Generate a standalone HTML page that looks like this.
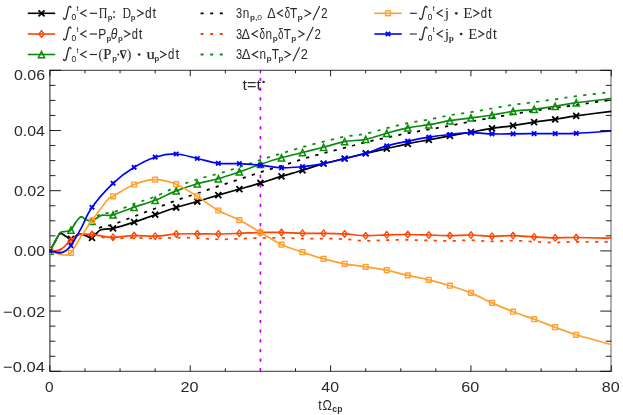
<!DOCTYPE html>
<html><head><meta charset="utf-8"><title>plot</title>
<style>
html,body{margin:0;padding:0;background:#fff}
body{width:623px;height:415px;position:relative;overflow:hidden;font-family:"Liberation Sans",sans-serif}
</style></head><body>
<svg width="623" height="415" viewBox="0 0 623 415" style="position:absolute;left:0;top:0;will-change:transform">
<rect width="623" height="415" fill="#fff"/>
<defs><clipPath id="cp"><rect x="49.4" y="69.8" width="562.5" height="302"/></clipPath></defs>
<path d="M49.90 69.80 V371.80" stroke="#000" stroke-opacity="0.78" stroke-width="1.15" fill="none"/>
<path d="M49.90 70.30 H611.50 M49.90 371.30 H611.50" stroke="#000" stroke-opacity="0.8" stroke-width="1.0" fill="none"/>
<path d="M611.00 70.30 V371.30" stroke="#000" stroke-opacity="0.55" stroke-width="1.15" fill="none"/>
<path d="M49.90 70.30 h11.0 M611.30 70.30 h-11.0 M49.90 85.35 h5.5 M611.30 85.35 h-5.5 M49.90 100.40 h5.5 M611.30 100.40 h-5.5 M49.90 115.45 h5.5 M611.30 115.45 h-5.5 M49.90 130.50 h11.0 M611.30 130.50 h-11.0 M49.90 145.55 h5.5 M611.30 145.55 h-5.5 M49.90 160.60 h5.5 M611.30 160.60 h-5.5 M49.90 175.65 h5.5 M611.30 175.65 h-5.5 M49.90 190.70 h11.0 M611.30 190.70 h-11.0 M49.90 205.75 h5.5 M611.30 205.75 h-5.5 M49.90 220.80 h5.5 M611.30 220.80 h-5.5 M49.90 235.85 h5.5 M611.30 235.85 h-5.5 M49.90 250.90 h11.0 M611.30 250.90 h-11.0 M49.90 265.95 h5.5 M611.30 265.95 h-5.5 M49.90 281.00 h5.5 M611.30 281.00 h-5.5 M49.90 296.05 h5.5 M611.30 296.05 h-5.5 M49.90 311.10 h11.0 M611.30 311.10 h-11.0 M49.90 326.15 h5.5 M611.30 326.15 h-5.5 M49.90 341.20 h5.5 M611.30 341.20 h-5.5 M49.90 356.25 h5.5 M611.30 356.25 h-5.5 M49.90 371.30 h11.0 M611.30 371.30 h-11.0 M49.90 371.30 v-6.0 M49.90 70.30 v6.0 M84.99 371.30 v-3.0 M84.99 70.30 v3.0 M120.07 371.30 v-3.0 M120.07 70.30 v3.0 M155.16 371.30 v-3.0 M155.16 70.30 v3.0 M190.25 371.30 v-6.0 M190.25 70.30 v6.0 M225.34 371.30 v-3.0 M225.34 70.30 v3.0 M260.43 371.30 v-3.0 M260.43 70.30 v3.0 M295.51 371.30 v-3.0 M295.51 70.30 v3.0 M330.60 371.30 v-6.0 M330.60 70.30 v6.0 M365.69 371.30 v-3.0 M365.69 70.30 v3.0 M400.77 371.30 v-3.0 M400.77 70.30 v3.0 M435.86 371.30 v-3.0 M435.86 70.30 v3.0 M470.95 371.30 v-6.0 M470.95 70.30 v6.0 M506.04 371.30 v-3.0 M506.04 70.30 v3.0 M541.12 371.30 v-3.0 M541.12 70.30 v3.0 M576.21 371.30 v-3.0 M576.21 70.30 v3.0 M611.30 371.30 v-6.0 M611.30 70.30 v6.0" stroke="#000" stroke-opacity="0.88" stroke-width="1.0" fill="none"/>
<line x1="260.43" y1="69.80" x2="260.43" y2="371.80" stroke="#c400f0" stroke-width="1.7" stroke-dasharray="3.2 6.48" stroke-dashoffset="1.58"/>
<g clip-path="url(#cp)" fill="none" stroke-linejoin="round" stroke-linecap="butt">
<path d="M49.90 251.00 C50.72 249.50 53.12 244.92 54.81 242.00 C56.51 239.08 58.32 234.50 60.08 233.50 C61.83 232.50 63.53 235.08 65.34 236.00 C67.15 236.92 69.20 239.00 70.95 239.00 C72.71 239.00 74.23 236.83 75.86 236.00 C77.50 235.17 79.02 234.12 80.78 234.00 C82.53 233.88 84.52 234.85 86.39 235.25 C88.26 235.65 90.25 237.12 92.00 236.40 C93.76 235.68 95.40 232.48 96.92 230.94 C98.44 229.40 98.44 228.25 101.13 227.16 C103.82 226.07 107.56 226.19 113.06 224.40 C118.55 222.61 127.09 219.05 134.11 216.40 C141.13 213.75 148.14 211.17 155.16 208.50 C162.18 205.83 169.20 202.92 176.22 200.40 C183.23 197.88 190.25 195.77 197.27 193.40 C204.29 191.03 211.30 188.55 218.32 186.20 C225.34 183.85 232.36 181.63 239.37 179.30 C246.39 176.97 253.41 174.43 260.43 172.20 C267.44 169.97 274.46 168.08 281.48 165.90 C288.50 163.72 295.51 161.22 302.53 159.10 C309.55 156.98 316.56 155.08 323.58 153.20 C330.60 151.32 337.62 149.62 344.63 147.80 C351.65 145.98 358.67 144.00 365.69 142.30 C372.70 140.60 379.72 139.12 386.74 137.60 C393.76 136.07 400.77 134.50 407.79 133.15 C414.81 131.80 421.83 130.74 428.84 129.50 C435.86 128.26 442.88 127.03 449.90 125.70 C456.91 124.37 463.93 122.85 470.95 121.50 C477.97 120.15 484.99 118.83 492.00 117.60 C499.02 116.37 506.04 115.23 513.06 114.10 C520.07 112.97 527.09 111.82 534.11 110.80 C541.12 109.78 548.14 108.97 555.16 108.00 C562.18 107.03 566.86 106.37 576.21 105.00 C585.57 103.63 605.45 100.67 611.30 99.80" stroke="#000000" stroke-width="1.75" stroke-dasharray="3.2 6.3"/>
<path d="M49.90 251.00 C50.72 250.98 53.17 251.05 54.81 250.88 C56.45 250.70 58.20 250.56 59.72 249.95 C61.24 249.34 62.77 248.13 63.94 247.22 C65.10 246.30 65.57 245.53 66.74 244.46 C67.91 243.40 69.20 242.25 70.95 240.83 C72.71 239.40 75.40 236.93 77.27 235.92 C79.14 234.92 79.72 234.85 82.18 234.80 C84.64 234.75 88.61 235.17 92.00 235.60 C95.40 236.03 99.02 236.92 102.53 237.40 C106.04 237.88 107.79 238.43 113.06 238.50 C118.32 238.57 127.09 237.80 134.11 237.80 C141.13 237.80 148.14 238.53 155.16 238.50 C162.18 238.47 169.20 237.66 176.22 237.60 C183.23 237.54 190.25 237.84 197.27 238.12 C204.29 238.41 211.30 239.20 218.32 239.30 C225.34 239.40 232.36 238.93 239.37 238.70 C246.39 238.47 253.41 238.04 260.43 237.90 C267.44 237.76 274.46 237.71 281.48 237.84 C288.50 237.97 295.51 238.55 302.53 238.68 C309.55 238.81 316.56 238.54 323.58 238.62 C330.60 238.70 337.62 238.78 344.63 239.16 C351.65 239.54 358.67 240.74 365.69 240.90 C372.70 241.06 379.72 240.27 386.74 240.10 C393.76 239.93 400.77 239.83 407.79 239.90 C414.81 239.97 421.83 240.32 428.84 240.50 C435.86 240.68 442.88 241.01 449.90 240.97 C456.91 240.92 463.93 240.16 470.95 240.23 C477.97 240.31 484.99 241.34 492.00 241.40 C499.02 241.46 506.04 240.51 513.06 240.57 C520.07 240.62 527.09 241.41 534.11 241.73 C541.12 242.06 548.14 242.48 555.16 242.50 C562.18 242.52 566.86 241.92 576.21 241.82 C585.57 241.72 605.45 241.89 611.30 241.90" stroke="#ff4500" stroke-width="1.75" stroke-dasharray="3.2 6.3"/>
<path d="M49.90 251.00 C50.72 249.50 53.12 245.00 54.81 242.00 C56.51 239.00 58.32 234.75 60.08 233.00 C61.83 231.25 63.53 232.00 65.34 231.50 C67.15 231.00 69.20 231.58 70.95 230.00 C72.71 228.42 74.23 224.17 75.86 222.00 C77.50 219.83 79.26 217.58 80.78 217.00 C82.30 216.42 83.58 218.01 84.99 218.51 C86.39 219.02 88.03 219.78 89.20 220.03 C90.37 220.27 90.60 220.69 92.00 220.00 C93.41 219.31 95.86 217.00 97.62 215.88 C99.37 214.76 99.96 213.88 102.53 213.30 C105.10 212.72 107.79 214.00 113.06 212.40 C118.32 210.80 127.09 206.33 134.11 203.70 C141.13 201.07 148.14 199.40 155.16 196.60 C162.18 193.80 169.20 189.78 176.22 186.90 C183.23 184.02 190.25 181.50 197.27 179.30 C204.29 177.10 211.30 175.72 218.32 173.70 C225.34 171.68 232.36 169.50 239.37 167.20 C246.39 164.90 253.41 162.20 260.43 159.90 C267.44 157.60 274.46 155.53 281.48 153.40 C288.50 151.27 295.51 149.07 302.53 147.10 C309.55 145.13 316.56 143.33 323.58 141.60 C330.60 139.87 337.62 138.02 344.63 136.70 C351.65 135.38 358.67 135.12 365.69 133.70 C372.70 132.28 379.72 129.98 386.74 128.20 C393.76 126.42 400.77 124.45 407.79 123.00 C414.81 121.55 421.83 120.78 428.84 119.50 C435.86 118.22 442.88 116.53 449.90 115.30 C456.91 114.07 463.93 113.23 470.95 112.10 C477.97 110.97 484.99 109.72 492.00 108.50 C499.02 107.28 506.04 105.85 513.06 104.80 C520.07 103.75 527.09 103.12 534.11 102.20 C541.12 101.28 548.14 100.30 555.16 99.30 C562.18 98.30 566.86 97.42 576.21 96.20 C585.57 94.98 605.45 92.70 611.30 92.00" stroke="#0c8c0c" stroke-width="1.75" stroke-dasharray="3.2 6.3"/>
<path d="M49.90 251.00 C50.72 249.50 53.12 244.92 54.81 242.00 C56.51 239.08 58.32 234.50 60.08 233.50 C61.83 232.50 63.53 235.08 65.34 236.00 C67.15 236.92 69.20 239.00 70.95 239.00 C72.71 239.00 74.23 236.83 75.86 236.00 C77.50 235.17 79.02 234.00 80.78 234.00 C82.53 234.00 84.52 235.35 86.39 236.00 C88.26 236.65 90.25 238.40 92.00 237.90 C93.76 237.40 95.40 234.37 96.92 233.00 C98.44 231.63 98.44 230.48 101.13 229.70 C103.82 228.92 107.56 229.57 113.06 228.30 C118.55 227.03 127.09 224.37 134.11 222.10 C141.13 219.83 148.14 217.13 155.16 214.70 C162.18 212.27 169.20 209.70 176.22 207.50 C183.23 205.30 190.25 203.57 197.27 201.50 C204.29 199.43 211.30 197.17 218.32 195.10 C225.34 193.03 232.36 191.12 239.37 189.10 C246.39 187.08 253.41 185.12 260.43 183.00 C267.44 180.88 274.46 178.52 281.48 176.40 C288.50 174.28 295.51 172.43 302.53 170.30 C309.55 168.17 316.56 165.55 323.58 163.60 C330.60 161.65 337.62 160.32 344.63 158.60 C351.65 156.88 358.67 154.97 365.69 153.30 C372.70 151.63 379.72 150.18 386.74 148.60 C393.76 147.02 400.77 145.27 407.79 143.80 C414.81 142.33 421.83 141.12 428.84 139.80 C435.86 138.48 442.88 137.18 449.90 135.90 C456.91 134.62 463.93 133.35 470.95 132.10 C477.97 130.85 484.99 129.48 492.00 128.40 C499.02 127.32 506.04 126.65 513.06 125.60 C520.07 124.55 527.09 123.15 534.11 122.10 C541.12 121.05 548.14 120.33 555.16 119.30 C562.18 118.27 566.86 117.23 576.21 115.90 C585.57 114.57 605.45 112.07 611.30 111.30" stroke="#000000" stroke-width="1.7"/>
<path d="M46.90 248.00 L52.90 254.00 M46.90 254.00 L52.90 248.00" stroke="#000000" stroke-width="1.8" fill="none"/>
<path d="M67.95 236.00 L73.95 242.00 M67.95 242.00 L73.95 236.00" stroke="#000000" stroke-width="1.8" fill="none"/>
<path d="M89.00 234.90 L95.00 240.90 M89.00 240.90 L95.00 234.90" stroke="#000000" stroke-width="1.8" fill="none"/>
<path d="M110.06 225.30 L116.06 231.30 M110.06 231.30 L116.06 225.30" stroke="#000000" stroke-width="1.8" fill="none"/>
<path d="M131.11 219.10 L137.11 225.10 M131.11 225.10 L137.11 219.10" stroke="#000000" stroke-width="1.8" fill="none"/>
<path d="M152.16 211.70 L158.16 217.70 M152.16 217.70 L158.16 211.70" stroke="#000000" stroke-width="1.8" fill="none"/>
<path d="M173.22 204.50 L179.22 210.50 M173.22 210.50 L179.22 204.50" stroke="#000000" stroke-width="1.8" fill="none"/>
<path d="M194.27 198.50 L200.27 204.50 M194.27 204.50 L200.27 198.50" stroke="#000000" stroke-width="1.8" fill="none"/>
<path d="M215.32 192.10 L221.32 198.10 M215.32 198.10 L221.32 192.10" stroke="#000000" stroke-width="1.8" fill="none"/>
<path d="M236.37 186.10 L242.37 192.10 M236.37 192.10 L242.37 186.10" stroke="#000000" stroke-width="1.8" fill="none"/>
<path d="M257.43 180.00 L263.43 186.00 M257.43 186.00 L263.43 180.00" stroke="#000000" stroke-width="1.8" fill="none"/>
<path d="M278.48 173.40 L284.48 179.40 M278.48 179.40 L284.48 173.40" stroke="#000000" stroke-width="1.8" fill="none"/>
<path d="M299.53 167.30 L305.53 173.30 M299.53 173.30 L305.53 167.30" stroke="#000000" stroke-width="1.8" fill="none"/>
<path d="M320.58 160.60 L326.58 166.60 M320.58 166.60 L326.58 160.60" stroke="#000000" stroke-width="1.8" fill="none"/>
<path d="M341.63 155.60 L347.63 161.60 M341.63 161.60 L347.63 155.60" stroke="#000000" stroke-width="1.8" fill="none"/>
<path d="M362.69 150.30 L368.69 156.30 M362.69 156.30 L368.69 150.30" stroke="#000000" stroke-width="1.8" fill="none"/>
<path d="M383.74 145.60 L389.74 151.60 M383.74 151.60 L389.74 145.60" stroke="#000000" stroke-width="1.8" fill="none"/>
<path d="M404.79 140.80 L410.79 146.80 M404.79 146.80 L410.79 140.80" stroke="#000000" stroke-width="1.8" fill="none"/>
<path d="M425.84 136.80 L431.84 142.80 M425.84 142.80 L431.84 136.80" stroke="#000000" stroke-width="1.8" fill="none"/>
<path d="M446.90 132.90 L452.90 138.90 M446.90 138.90 L452.90 132.90" stroke="#000000" stroke-width="1.8" fill="none"/>
<path d="M467.95 129.10 L473.95 135.10 M467.95 135.10 L473.95 129.10" stroke="#000000" stroke-width="1.8" fill="none"/>
<path d="M489.00 125.40 L495.00 131.40 M489.00 131.40 L495.00 125.40" stroke="#000000" stroke-width="1.8" fill="none"/>
<path d="M510.06 122.60 L516.06 128.60 M510.06 128.60 L516.06 122.60" stroke="#000000" stroke-width="1.8" fill="none"/>
<path d="M531.11 119.10 L537.11 125.10 M531.11 125.10 L537.11 119.10" stroke="#000000" stroke-width="1.8" fill="none"/>
<path d="M552.16 116.30 L558.16 122.30 M552.16 122.30 L558.16 116.30" stroke="#000000" stroke-width="1.8" fill="none"/>
<path d="M573.21 112.90 L579.21 118.90 M573.21 118.90 L579.21 112.90" stroke="#000000" stroke-width="1.8" fill="none"/>
<path d="M49.90 251.00 C50.72 250.97 53.17 251.00 54.81 250.80 C56.45 250.60 58.20 250.43 59.72 249.80 C61.24 249.17 62.77 247.93 63.94 247.00 C65.10 246.07 65.57 245.28 66.74 244.20 C67.91 243.12 69.20 241.95 70.95 240.50 C72.71 239.05 75.40 236.53 77.27 235.50 C79.14 234.47 79.72 234.48 82.18 234.30 C84.64 234.12 88.61 234.08 92.00 234.40 C95.40 234.72 99.02 235.72 102.53 236.20 C106.04 236.68 107.79 237.40 113.06 237.30 C118.32 237.20 127.09 235.78 134.11 235.60 C141.13 235.42 148.14 236.47 155.16 236.20 C162.18 235.93 169.20 234.40 176.22 234.00 C183.23 233.60 190.25 233.80 197.27 233.80 C204.29 233.80 211.30 234.08 218.32 234.00 C225.34 233.92 232.36 233.57 239.37 233.30 C246.39 233.03 253.41 232.55 260.43 232.40 C267.44 232.25 274.46 232.25 281.48 232.40 C288.50 232.55 295.51 233.15 302.53 233.30 C309.55 233.45 316.56 233.20 323.58 233.30 C330.60 233.40 337.62 233.50 344.63 233.90 C351.65 234.30 358.67 235.55 365.69 235.70 C372.70 235.85 379.72 235.00 386.74 234.80 C393.76 234.60 400.77 234.47 407.79 234.50 C414.81 234.53 421.83 234.82 428.84 235.00 C435.86 235.18 442.88 235.60 449.90 235.60 C456.91 235.60 463.93 234.88 470.95 235.00 C477.97 235.12 484.99 236.20 492.00 236.30 C499.02 236.40 506.04 235.50 513.06 235.60 C520.07 235.70 527.09 236.53 534.11 236.90 C541.12 237.27 548.14 237.70 555.16 237.80 C562.18 237.90 566.86 237.43 576.21 237.50 C585.57 237.57 605.45 238.08 611.30 238.20" stroke="#ff4500" stroke-width="1.7"/>
<path d="M49.90 247.65 L52.45 251.00 L49.90 254.35 L47.35 251.00 Z" stroke="#ff4500" stroke-width="1.3" fill="none"/>
<path d="M70.95 237.15 L73.50 240.50 L70.95 243.85 L68.41 240.50 Z" stroke="#ff4500" stroke-width="1.3" fill="none"/>
<path d="M92.00 231.05 L94.55 234.40 L92.00 237.75 L89.46 234.40 Z" stroke="#ff4500" stroke-width="1.3" fill="none"/>
<path d="M113.06 233.95 L115.60 237.30 L113.06 240.65 L110.51 237.30 Z" stroke="#ff4500" stroke-width="1.3" fill="none"/>
<path d="M134.11 232.25 L136.66 235.60 L134.11 238.95 L131.56 235.60 Z" stroke="#ff4500" stroke-width="1.3" fill="none"/>
<path d="M155.16 232.85 L157.71 236.20 L155.16 239.55 L152.62 236.20 Z" stroke="#ff4500" stroke-width="1.3" fill="none"/>
<path d="M176.22 230.65 L178.76 234.00 L176.22 237.35 L173.67 234.00 Z" stroke="#ff4500" stroke-width="1.3" fill="none"/>
<path d="M197.27 230.45 L199.81 233.80 L197.27 237.15 L194.72 233.80 Z" stroke="#ff4500" stroke-width="1.3" fill="none"/>
<path d="M218.32 230.65 L220.87 234.00 L218.32 237.35 L215.77 234.00 Z" stroke="#ff4500" stroke-width="1.3" fill="none"/>
<path d="M239.37 229.95 L241.92 233.30 L239.37 236.65 L236.83 233.30 Z" stroke="#ff4500" stroke-width="1.3" fill="none"/>
<path d="M260.43 229.05 L262.97 232.40 L260.43 235.75 L257.88 232.40 Z" stroke="#ff4500" stroke-width="1.3" fill="none"/>
<path d="M281.48 229.05 L284.02 232.40 L281.48 235.75 L278.93 232.40 Z" stroke="#ff4500" stroke-width="1.3" fill="none"/>
<path d="M302.53 229.95 L305.08 233.30 L302.53 236.65 L299.98 233.30 Z" stroke="#ff4500" stroke-width="1.3" fill="none"/>
<path d="M323.58 229.95 L326.13 233.30 L323.58 236.65 L321.04 233.30 Z" stroke="#ff4500" stroke-width="1.3" fill="none"/>
<path d="M344.63 230.55 L347.18 233.90 L344.63 237.25 L342.09 233.90 Z" stroke="#ff4500" stroke-width="1.3" fill="none"/>
<path d="M365.69 232.35 L368.23 235.70 L365.69 239.05 L363.14 235.70 Z" stroke="#ff4500" stroke-width="1.3" fill="none"/>
<path d="M386.74 231.45 L389.29 234.80 L386.74 238.15 L384.19 234.80 Z" stroke="#ff4500" stroke-width="1.3" fill="none"/>
<path d="M407.79 231.15 L410.34 234.50 L407.79 237.85 L405.25 234.50 Z" stroke="#ff4500" stroke-width="1.3" fill="none"/>
<path d="M428.84 231.65 L431.39 235.00 L428.84 238.35 L426.30 235.00 Z" stroke="#ff4500" stroke-width="1.3" fill="none"/>
<path d="M449.90 232.25 L452.44 235.60 L449.90 238.95 L447.35 235.60 Z" stroke="#ff4500" stroke-width="1.3" fill="none"/>
<path d="M470.95 231.65 L473.50 235.00 L470.95 238.35 L468.40 235.00 Z" stroke="#ff4500" stroke-width="1.3" fill="none"/>
<path d="M492.00 232.95 L494.55 236.30 L492.00 239.65 L489.46 236.30 Z" stroke="#ff4500" stroke-width="1.3" fill="none"/>
<path d="M513.06 232.25 L515.60 235.60 L513.06 238.95 L510.51 235.60 Z" stroke="#ff4500" stroke-width="1.3" fill="none"/>
<path d="M534.11 233.55 L536.65 236.90 L534.11 240.25 L531.56 236.90 Z" stroke="#ff4500" stroke-width="1.3" fill="none"/>
<path d="M555.16 234.45 L557.71 237.80 L555.16 241.15 L552.61 237.80 Z" stroke="#ff4500" stroke-width="1.3" fill="none"/>
<path d="M576.21 234.15 L578.76 237.50 L576.21 240.85 L573.67 237.50 Z" stroke="#ff4500" stroke-width="1.3" fill="none"/>
<path d="M49.90 251.00 C50.72 249.50 53.12 245.00 54.81 242.00 C56.51 239.00 58.32 234.75 60.08 233.00 C61.83 231.25 63.53 232.00 65.34 231.50 C67.15 231.00 69.20 231.58 70.95 230.00 C72.71 228.42 74.23 224.17 75.86 222.00 C77.50 219.83 79.26 217.50 80.78 217.00 C82.30 216.50 83.58 218.33 84.99 219.00 C86.39 219.67 88.03 220.62 89.20 221.00 C90.37 221.38 90.60 221.88 92.00 221.30 C93.41 220.72 95.86 218.52 97.62 217.50 C99.37 216.48 99.96 215.63 102.53 215.20 C105.10 214.77 107.79 216.23 113.06 214.90 C118.32 213.57 127.09 209.63 134.11 207.20 C141.13 204.77 148.14 203.02 155.16 200.30 C162.18 197.58 169.20 193.67 176.22 190.90 C183.23 188.13 190.25 185.73 197.27 183.70 C204.29 181.67 211.30 180.67 218.32 178.70 C225.34 176.73 232.36 174.28 239.37 171.90 C246.39 169.52 253.41 166.75 260.43 164.40 C267.44 162.05 274.46 159.78 281.48 157.80 C288.50 155.82 295.51 154.27 302.53 152.50 C309.55 150.73 316.56 149.02 323.58 147.20 C330.60 145.38 337.62 142.92 344.63 141.60 C351.65 140.28 358.67 140.70 365.69 139.30 C372.70 137.90 379.72 135.10 386.74 133.20 C393.76 131.30 400.77 129.32 407.79 127.90 C414.81 126.48 421.83 125.90 428.84 124.70 C435.86 123.50 442.88 121.83 449.90 120.70 C456.91 119.57 463.93 118.85 470.95 117.90 C477.97 116.95 484.99 116.10 492.00 115.00 C499.02 113.90 506.04 112.25 513.06 111.30 C520.07 110.35 527.09 110.12 534.11 109.30 C541.12 108.48 548.14 107.50 555.16 106.40 C562.18 105.30 566.86 103.98 576.21 102.70 C585.57 101.42 605.45 99.37 611.30 98.70" stroke="#0c8c0c" stroke-width="1.7"/>
<path d="M49.90 247.90 L53.00 254.20 L46.80 254.20 Z" stroke="#0c8c0c" stroke-width="1.5" fill="none" stroke-linejoin="miter"/>
<path d="M70.95 226.90 L74.05 233.20 L67.85 233.20 Z" stroke="#0c8c0c" stroke-width="1.5" fill="none" stroke-linejoin="miter"/>
<path d="M92.00 218.20 L95.10 224.50 L88.91 224.50 Z" stroke="#0c8c0c" stroke-width="1.5" fill="none" stroke-linejoin="miter"/>
<path d="M113.06 211.80 L116.16 218.10 L109.96 218.10 Z" stroke="#0c8c0c" stroke-width="1.5" fill="none" stroke-linejoin="miter"/>
<path d="M134.11 204.10 L137.21 210.40 L131.01 210.40 Z" stroke="#0c8c0c" stroke-width="1.5" fill="none" stroke-linejoin="miter"/>
<path d="M155.16 197.20 L158.26 203.50 L152.06 203.50 Z" stroke="#0c8c0c" stroke-width="1.5" fill="none" stroke-linejoin="miter"/>
<path d="M176.22 187.80 L179.31 194.10 L173.12 194.10 Z" stroke="#0c8c0c" stroke-width="1.5" fill="none" stroke-linejoin="miter"/>
<path d="M197.27 180.60 L200.37 186.90 L194.17 186.90 Z" stroke="#0c8c0c" stroke-width="1.5" fill="none" stroke-linejoin="miter"/>
<path d="M218.32 175.60 L221.42 181.90 L215.22 181.90 Z" stroke="#0c8c0c" stroke-width="1.5" fill="none" stroke-linejoin="miter"/>
<path d="M239.37 168.80 L242.47 175.10 L236.27 175.10 Z" stroke="#0c8c0c" stroke-width="1.5" fill="none" stroke-linejoin="miter"/>
<path d="M260.43 161.30 L263.53 167.60 L257.32 167.60 Z" stroke="#0c8c0c" stroke-width="1.5" fill="none" stroke-linejoin="miter"/>
<path d="M281.48 154.70 L284.58 161.00 L278.38 161.00 Z" stroke="#0c8c0c" stroke-width="1.5" fill="none" stroke-linejoin="miter"/>
<path d="M302.53 149.40 L305.63 155.70 L299.43 155.70 Z" stroke="#0c8c0c" stroke-width="1.5" fill="none" stroke-linejoin="miter"/>
<path d="M323.58 144.10 L326.68 150.40 L320.48 150.40 Z" stroke="#0c8c0c" stroke-width="1.5" fill="none" stroke-linejoin="miter"/>
<path d="M344.63 138.50 L347.74 144.80 L341.53 144.80 Z" stroke="#0c8c0c" stroke-width="1.5" fill="none" stroke-linejoin="miter"/>
<path d="M365.69 136.20 L368.79 142.50 L362.59 142.50 Z" stroke="#0c8c0c" stroke-width="1.5" fill="none" stroke-linejoin="miter"/>
<path d="M386.74 130.10 L389.84 136.40 L383.64 136.40 Z" stroke="#0c8c0c" stroke-width="1.5" fill="none" stroke-linejoin="miter"/>
<path d="M407.79 124.80 L410.89 131.10 L404.69 131.10 Z" stroke="#0c8c0c" stroke-width="1.5" fill="none" stroke-linejoin="miter"/>
<path d="M428.84 121.60 L431.94 127.90 L425.74 127.90 Z" stroke="#0c8c0c" stroke-width="1.5" fill="none" stroke-linejoin="miter"/>
<path d="M449.90 117.60 L453.00 123.90 L446.80 123.90 Z" stroke="#0c8c0c" stroke-width="1.5" fill="none" stroke-linejoin="miter"/>
<path d="M470.95 114.80 L474.05 121.10 L467.85 121.10 Z" stroke="#0c8c0c" stroke-width="1.5" fill="none" stroke-linejoin="miter"/>
<path d="M492.00 111.90 L495.10 118.20 L488.90 118.20 Z" stroke="#0c8c0c" stroke-width="1.5" fill="none" stroke-linejoin="miter"/>
<path d="M513.06 108.20 L516.16 114.50 L509.96 114.50 Z" stroke="#0c8c0c" stroke-width="1.5" fill="none" stroke-linejoin="miter"/>
<path d="M534.11 106.20 L537.21 112.50 L531.01 112.50 Z" stroke="#0c8c0c" stroke-width="1.5" fill="none" stroke-linejoin="miter"/>
<path d="M555.16 103.30 L558.26 109.60 L552.06 109.60 Z" stroke="#0c8c0c" stroke-width="1.5" fill="none" stroke-linejoin="miter"/>
<path d="M576.21 99.60 L579.31 105.90 L573.11 105.90 Z" stroke="#0c8c0c" stroke-width="1.5" fill="none" stroke-linejoin="miter"/>
<path d="M49.90 251.00 C51.07 251.42 54.58 252.83 56.92 253.50 C59.26 254.17 61.60 255.12 63.94 255.00 C66.27 254.88 68.15 255.82 70.95 252.80 C73.76 249.78 77.27 242.28 80.78 236.90 C84.29 231.52 87.56 226.65 92.00 220.50 C96.45 214.35 103.93 204.02 107.44 200.00 C110.95 195.98 108.61 198.98 113.06 196.40 C117.50 193.82 127.09 187.30 134.11 184.50 C141.13 181.70 148.14 179.65 155.16 179.60 C162.18 179.55 169.20 181.40 176.22 184.20 C183.23 187.00 190.25 192.02 197.27 196.40 C204.29 200.78 211.30 206.55 218.32 210.50 C225.34 214.45 232.36 216.45 239.37 220.10 C246.39 223.75 253.41 228.32 260.43 232.40 C267.44 236.48 274.46 241.30 281.48 244.60 C288.50 247.90 295.51 249.82 302.53 252.20 C309.55 254.58 316.56 256.97 323.58 258.90 C330.60 260.83 337.62 262.48 344.63 263.80 C351.65 265.12 358.67 265.73 365.69 266.80 C372.70 267.87 379.72 268.77 386.74 270.20 C393.76 271.63 400.77 273.80 407.79 275.40 C414.81 277.00 421.83 278.08 428.84 279.80 C435.86 281.52 442.88 283.52 449.90 285.70 C456.91 287.88 463.93 290.03 470.95 292.90 C477.97 295.77 484.99 299.77 492.00 302.90 C499.02 306.03 506.04 308.98 513.06 311.70 C520.07 314.42 527.09 316.62 534.11 319.20 C541.12 321.78 548.14 324.60 555.16 327.20 C562.18 329.80 566.86 331.90 576.21 334.80 C585.57 337.70 605.45 342.97 611.30 344.60" stroke="#ffa030" stroke-width="1.7"/>
<rect x="47.50" y="248.60" width="4.80" height="4.80" stroke="#ffa030" stroke-width="1.4" fill="none"/>
<rect x="68.55" y="250.40" width="4.80" height="4.80" stroke="#ffa030" stroke-width="1.4" fill="none"/>
<rect x="89.60" y="218.10" width="4.80" height="4.80" stroke="#ffa030" stroke-width="1.4" fill="none"/>
<rect x="110.66" y="194.00" width="4.80" height="4.80" stroke="#ffa030" stroke-width="1.4" fill="none"/>
<rect x="131.71" y="182.10" width="4.80" height="4.80" stroke="#ffa030" stroke-width="1.4" fill="none"/>
<rect x="152.76" y="177.20" width="4.80" height="4.80" stroke="#ffa030" stroke-width="1.4" fill="none"/>
<rect x="173.81" y="181.80" width="4.80" height="4.80" stroke="#ffa030" stroke-width="1.4" fill="none"/>
<rect x="194.87" y="194.00" width="4.80" height="4.80" stroke="#ffa030" stroke-width="1.4" fill="none"/>
<rect x="215.92" y="208.10" width="4.80" height="4.80" stroke="#ffa030" stroke-width="1.4" fill="none"/>
<rect x="236.97" y="217.70" width="4.80" height="4.80" stroke="#ffa030" stroke-width="1.4" fill="none"/>
<rect x="258.03" y="230.00" width="4.80" height="4.80" stroke="#ffa030" stroke-width="1.4" fill="none"/>
<rect x="279.08" y="242.20" width="4.80" height="4.80" stroke="#ffa030" stroke-width="1.4" fill="none"/>
<rect x="300.13" y="249.80" width="4.80" height="4.80" stroke="#ffa030" stroke-width="1.4" fill="none"/>
<rect x="321.18" y="256.50" width="4.80" height="4.80" stroke="#ffa030" stroke-width="1.4" fill="none"/>
<rect x="342.24" y="261.40" width="4.80" height="4.80" stroke="#ffa030" stroke-width="1.4" fill="none"/>
<rect x="363.29" y="264.40" width="4.80" height="4.80" stroke="#ffa030" stroke-width="1.4" fill="none"/>
<rect x="384.34" y="267.80" width="4.80" height="4.80" stroke="#ffa030" stroke-width="1.4" fill="none"/>
<rect x="405.39" y="273.00" width="4.80" height="4.80" stroke="#ffa030" stroke-width="1.4" fill="none"/>
<rect x="426.44" y="277.40" width="4.80" height="4.80" stroke="#ffa030" stroke-width="1.4" fill="none"/>
<rect x="447.50" y="283.30" width="4.80" height="4.80" stroke="#ffa030" stroke-width="1.4" fill="none"/>
<rect x="468.55" y="290.50" width="4.80" height="4.80" stroke="#ffa030" stroke-width="1.4" fill="none"/>
<rect x="489.60" y="300.50" width="4.80" height="4.80" stroke="#ffa030" stroke-width="1.4" fill="none"/>
<rect x="510.66" y="309.30" width="4.80" height="4.80" stroke="#ffa030" stroke-width="1.4" fill="none"/>
<rect x="531.71" y="316.80" width="4.80" height="4.80" stroke="#ffa030" stroke-width="1.4" fill="none"/>
<rect x="552.76" y="324.80" width="4.80" height="4.80" stroke="#ffa030" stroke-width="1.4" fill="none"/>
<rect x="573.81" y="332.40" width="4.80" height="4.80" stroke="#ffa030" stroke-width="1.4" fill="none"/>
<path d="M49.90 251.00 C51.07 251.22 55.16 252.00 56.92 252.30 C58.67 252.60 59.02 253.02 60.43 252.80 C61.83 252.58 63.58 252.20 65.34 251.00 C67.09 249.80 68.38 249.28 70.95 245.60 C73.53 241.92 77.27 235.28 80.78 228.90 C84.29 222.52 86.62 214.90 92.00 207.30 C97.39 199.70 106.04 189.97 113.06 183.30 C120.08 176.63 127.09 171.65 134.11 167.30 C141.13 162.95 148.14 159.42 155.16 157.20 C162.18 154.98 169.20 153.78 176.22 154.00 C183.23 154.22 190.25 156.95 197.27 158.50 C204.29 160.05 211.30 162.45 218.32 163.30 C225.34 164.15 232.36 163.28 239.37 163.60 C246.39 163.92 253.41 164.48 260.43 165.20 C267.44 165.92 274.46 167.67 281.48 167.90 C288.50 168.13 295.51 167.32 302.53 166.60 C309.55 165.88 316.56 164.93 323.58 163.60 C330.60 162.27 337.62 160.32 344.63 158.60 C351.65 156.88 358.67 155.42 365.69 153.30 C372.70 151.18 379.72 147.92 386.74 145.90 C393.76 143.88 400.77 142.65 407.79 141.20 C414.81 139.75 421.83 138.32 428.84 137.20 C435.86 136.08 442.88 135.25 449.90 134.50 C456.91 133.75 463.93 132.80 470.95 132.70 C477.97 132.60 484.99 133.70 492.00 133.90 C499.02 134.10 506.04 133.95 513.06 133.90 C520.07 133.85 527.09 133.65 534.11 133.60 C541.12 133.55 548.14 133.65 555.16 133.60 C562.18 133.55 566.86 133.73 576.21 133.30 C585.57 132.87 605.45 131.38 611.30 131.00" stroke="#0000ff" stroke-width="1.7"/>
<path d="M47.70 248.80 L52.10 253.20 M47.70 253.20 L52.10 248.80" stroke="#0000ff" stroke-width="1.8" fill="none"/>
<path d="M68.75 243.40 L73.15 247.80 M68.75 247.80 L73.15 243.40" stroke="#0000ff" stroke-width="1.8" fill="none"/>
<path d="M89.80 205.10 L94.20 209.50 M89.80 209.50 L94.20 205.10" stroke="#0000ff" stroke-width="1.8" fill="none"/>
<path d="M110.86 181.10 L115.26 185.50 M110.86 185.50 L115.26 181.10" stroke="#0000ff" stroke-width="1.8" fill="none"/>
<path d="M131.91 165.10 L136.31 169.50 M131.91 169.50 L136.31 165.10" stroke="#0000ff" stroke-width="1.8" fill="none"/>
<path d="M152.96 155.00 L157.36 159.40 M152.96 159.40 L157.36 155.00" stroke="#0000ff" stroke-width="1.8" fill="none"/>
<path d="M174.02 151.80 L178.41 156.20 M174.02 156.20 L178.41 151.80" stroke="#0000ff" stroke-width="1.8" fill="none"/>
<path d="M195.07 156.30 L199.47 160.70 M195.07 160.70 L199.47 156.30" stroke="#0000ff" stroke-width="1.8" fill="none"/>
<path d="M216.12 161.10 L220.52 165.50 M216.12 165.50 L220.52 161.10" stroke="#0000ff" stroke-width="1.8" fill="none"/>
<path d="M237.17 161.40 L241.57 165.80 M237.17 165.80 L241.57 161.40" stroke="#0000ff" stroke-width="1.8" fill="none"/>
<path d="M258.23 163.00 L262.62 167.40 M258.23 167.40 L262.62 163.00" stroke="#0000ff" stroke-width="1.8" fill="none"/>
<path d="M279.28 165.70 L283.68 170.10 M279.28 170.10 L283.68 165.70" stroke="#0000ff" stroke-width="1.8" fill="none"/>
<path d="M300.33 164.40 L304.73 168.80 M300.33 168.80 L304.73 164.40" stroke="#0000ff" stroke-width="1.8" fill="none"/>
<path d="M321.38 161.40 L325.78 165.80 M321.38 165.80 L325.78 161.40" stroke="#0000ff" stroke-width="1.8" fill="none"/>
<path d="M342.44 156.40 L346.83 160.80 M342.44 160.80 L346.83 156.40" stroke="#0000ff" stroke-width="1.8" fill="none"/>
<path d="M363.49 151.10 L367.89 155.50 M363.49 155.50 L367.89 151.10" stroke="#0000ff" stroke-width="1.8" fill="none"/>
<path d="M384.54 143.70 L388.94 148.10 M384.54 148.10 L388.94 143.70" stroke="#0000ff" stroke-width="1.8" fill="none"/>
<path d="M405.59 139.00 L409.99 143.40 M405.59 143.40 L409.99 139.00" stroke="#0000ff" stroke-width="1.8" fill="none"/>
<path d="M426.64 135.00 L431.04 139.40 M426.64 139.40 L431.04 135.00" stroke="#0000ff" stroke-width="1.8" fill="none"/>
<path d="M447.70 132.30 L452.10 136.70 M447.70 136.70 L452.10 132.30" stroke="#0000ff" stroke-width="1.8" fill="none"/>
<path d="M468.75 130.50 L473.15 134.90 M468.75 134.90 L473.15 130.50" stroke="#0000ff" stroke-width="1.8" fill="none"/>
<path d="M489.80 131.70 L494.20 136.10 M489.80 136.10 L494.20 131.70" stroke="#0000ff" stroke-width="1.8" fill="none"/>
<path d="M510.86 131.70 L515.26 136.10 M510.86 136.10 L515.26 131.70" stroke="#0000ff" stroke-width="1.8" fill="none"/>
<path d="M531.91 131.40 L536.31 135.80 M531.91 135.80 L536.31 131.40" stroke="#0000ff" stroke-width="1.8" fill="none"/>
<path d="M552.96 131.40 L557.36 135.80 M552.96 135.80 L557.36 131.40" stroke="#0000ff" stroke-width="1.8" fill="none"/>
<path d="M574.01 131.10 L578.41 135.50 M574.01 135.50 L578.41 131.10" stroke="#0000ff" stroke-width="1.8" fill="none"/>
</g>
<line x1="27.8" y1="13.30" x2="55.2" y2="13.30" stroke="#000000" stroke-width="1.6"/>
<path d="M38.50 10.30 L44.50 16.30 M38.50 16.30 L44.50 10.30" stroke="#000000" stroke-width="1.8" fill="none"/>
<line x1="27.8" y1="34.00" x2="55.2" y2="34.00" stroke="#ff4500" stroke-width="1.6"/>
<path d="M41.50 30.65 L44.05 34.00 L41.50 37.35 L38.95 34.00 Z" stroke="#ff4500" stroke-width="1.3" fill="none"/>
<line x1="27.8" y1="54.50" x2="55.2" y2="54.50" stroke="#0c8c0c" stroke-width="1.6"/>
<path d="M41.50 51.40 L44.60 57.70 L38.40 57.70 Z" stroke="#0c8c0c" stroke-width="1.5" fill="none" stroke-linejoin="miter"/>
<path d="M63.50 18.20 c0.2 1.6 2.3 1.5 2.8 -0.9 l2.0 -8.9 c0.5 -2.4 2.3 -2.6 2.6 -0.9" fill="none" stroke="#2a2a2a" stroke-width="1.3" stroke-linecap="round"/>
<text transform="translate(71.57 20.30) scale(0.973 1)" style="font-family:'Liberation Sans',sans-serif;font-size:8.6px;font-weight:normal;font-style:normal;fill:#111">0</text><text transform="translate(76.59 11.40) scale(0.904 1)" style="font-family:'Liberation Sans',sans-serif;font-size:7.8px;font-weight:normal;font-style:normal;fill:#111">t</text>
<path d="M86.60 9.80 L80.60 13.20 L86.60 16.60" fill="none" stroke="#2a2a2a" stroke-width="1.15" stroke-linejoin="miter"/>
<path d="M89.70 13.30 H97.00" fill="none" stroke="#2a2a2a" stroke-width="1.15"/>
<path d="M63.50 38.90 c0.2 1.6 2.3 1.5 2.8 -0.9 l2.0 -8.9 c0.5 -2.4 2.3 -2.6 2.6 -0.9" fill="none" stroke="#2a2a2a" stroke-width="1.3" stroke-linecap="round"/>
<text transform="translate(71.57 41.00) scale(0.973 1)" style="font-family:'Liberation Sans',sans-serif;font-size:8.6px;font-weight:normal;font-style:normal;fill:#111">0</text><text transform="translate(76.59 32.10) scale(0.904 1)" style="font-family:'Liberation Sans',sans-serif;font-size:7.8px;font-weight:normal;font-style:normal;fill:#111">t</text>
<path d="M86.60 30.50 L80.60 33.90 L86.60 37.30" fill="none" stroke="#2a2a2a" stroke-width="1.15" stroke-linejoin="miter"/>
<path d="M89.70 34.00 H97.00" fill="none" stroke="#2a2a2a" stroke-width="1.15"/>
<path d="M63.50 59.40 c0.2 1.6 2.3 1.5 2.8 -0.9 l2.0 -8.9 c0.5 -2.4 2.3 -2.6 2.6 -0.9" fill="none" stroke="#2a2a2a" stroke-width="1.3" stroke-linecap="round"/>
<text transform="translate(71.57 61.50) scale(0.973 1)" style="font-family:'Liberation Sans',sans-serif;font-size:8.6px;font-weight:normal;font-style:normal;fill:#111">0</text><text transform="translate(76.59 52.60) scale(0.904 1)" style="font-family:'Liberation Sans',sans-serif;font-size:7.8px;font-weight:normal;font-style:normal;fill:#111">t</text>
<path d="M86.60 51.00 L80.60 54.40 L86.60 57.80" fill="none" stroke="#2a2a2a" stroke-width="1.15" stroke-linejoin="miter"/>
<path d="M89.70 54.50 H97.00" fill="none" stroke="#2a2a2a" stroke-width="1.15"/>
<text transform="translate(98.85 17.80) scale(0.842 1)" style="font-family:'Liberation Serif',sans-serif;font-size:14.3px;font-weight:normal;font-style:normal;fill:#2a2a2a">Π</text>
<text transform="translate(107.70 20.10) scale(1.197 1)" style="font-family:'Liberation Sans',sans-serif;font-size:6.3px;font-weight:bold;font-style:normal;fill:#3a3a3a">p</text>
<text transform="translate(111.99 17.80) scale(1.070 1)" style="font-family:'Liberation Serif',sans-serif;font-size:14.3px;font-weight:normal;font-style:normal;fill:#2a2a2a">:</text>
<text transform="translate(122.56 17.80) scale(0.824 1)" style="font-family:'Liberation Serif',sans-serif;font-size:14.3px;font-weight:normal;font-style:normal;fill:#2a2a2a">D</text>
<text transform="translate(130.69 20.10) scale(1.228 1)" style="font-family:'Liberation Sans',sans-serif;font-size:6.3px;font-weight:bold;font-style:normal;fill:#3a3a3a">p</text>
<path d="M137.00 9.80 L143.30 13.20 L137.00 16.60" fill="none" stroke="#2a2a2a" stroke-width="1.15" stroke-linejoin="miter"/>
<text transform="translate(144.90 17.80) scale(0.846 1)" style="font-family:'Liberation Sans',sans-serif;font-size:14.2px;font-weight:normal;font-style:normal;fill:#2a2a2a">d</text>
<text transform="translate(152.50 17.80) scale(0.910 1)" style="font-family:'Liberation Sans',sans-serif;font-size:14.2px;font-weight:normal;font-style:normal;fill:#2a2a2a">t</text>
<text transform="translate(98.31 38.50) scale(0.847 1)" style="font-family:'Liberation Sans',sans-serif;font-size:14.2px;font-weight:normal;font-style:normal;fill:#2a2a2a">P</text>
<text transform="translate(106.48 40.80) scale(1.260 1)" style="font-family:'Liberation Sans',sans-serif;font-size:6.3px;font-weight:bold;font-style:normal;fill:#3a3a3a">p</text>
<text transform="translate(110.80 38.50) scale(0.858 1)" style="font-family:'Liberation Sans',sans-serif;font-size:14.2px;font-weight:normal;font-style:italic;fill:#2a2a2a">θ</text>
<text transform="translate(117.88 40.80) scale(1.260 1)" style="font-family:'Liberation Sans',sans-serif;font-size:6.3px;font-weight:bold;font-style:normal;fill:#3a3a3a">p</text>
<path d="M124.10 30.50 L130.00 33.90 L124.10 37.30" fill="none" stroke="#2a2a2a" stroke-width="1.15" stroke-linejoin="miter"/>
<text transform="translate(131.73 38.50) scale(0.783 1)" style="font-family:'Liberation Sans',sans-serif;font-size:14.2px;font-weight:normal;font-style:normal;fill:#2a2a2a">d</text>
<text transform="translate(138.80 38.50) scale(0.910 1)" style="font-family:'Liberation Sans',sans-serif;font-size:14.2px;font-weight:normal;font-style:normal;fill:#2a2a2a">t</text>
<text transform="translate(98.42 59.00) scale(0.926 1)" style="font-family:'Liberation Serif',sans-serif;font-size:14.3px;font-weight:normal;font-style:normal;fill:#2a2a2a">(</text>
<text transform="translate(103.37 59.00) scale(1.033 1)" style="font-family:'Liberation Serif',sans-serif;font-size:14.3px;font-weight:normal;font-style:normal;fill:#2a2a2a;stroke:#2a2a2a;stroke-width:0.2px">P</text>
<text transform="translate(112.29 61.30) scale(1.228 1)" style="font-family:'Liberation Sans',sans-serif;font-size:6.3px;font-weight:bold;font-style:normal;fill:#3a3a3a">p</text>
<circle cx="118.30" cy="54.50" r="0.95" fill="#2a2a2a"/>
<path d="M120.3 50.70 h6.0 l-3.0 7.6 z" fill="none" stroke="#2a2a2a" stroke-width="0.9" stroke-linejoin="miter"/><path d="M120.6 50.80 l3.0 7.4" stroke="#2a2a2a" stroke-width="1.7"/>
<text transform="translate(126.85 59.00) scale(0.980 1)" style="font-family:'Liberation Serif',sans-serif;font-size:14.3px;font-weight:normal;font-style:normal;fill:#2a2a2a">)</text>
<circle cx="139.20" cy="54.50" r="1.35" fill="#2a2a2a"/>
<text transform="translate(146.58 59.00) scale(1.176 1)" style="font-family:'Liberation Serif',sans-serif;font-size:14.3px;font-weight:normal;font-style:normal;fill:#2a2a2a;stroke:#2a2a2a;stroke-width:0.2px">u</text>
<text transform="translate(154.49 61.30) scale(1.228 1)" style="font-family:'Liberation Sans',sans-serif;font-size:6.3px;font-weight:bold;font-style:normal;fill:#3a3a3a">p</text>
<path d="M160.10 51.00 L166.00 54.40 L160.10 57.80" fill="none" stroke="#2a2a2a" stroke-width="1.15" stroke-linejoin="miter"/>
<text transform="translate(168.02 59.00) scale(0.799 1)" style="font-family:'Liberation Sans',sans-serif;font-size:14.2px;font-weight:normal;font-style:normal;fill:#2a2a2a">d</text>
<text transform="translate(175.60 59.00) scale(0.938 1)" style="font-family:'Liberation Sans',sans-serif;font-size:14.2px;font-weight:normal;font-style:normal;fill:#2a2a2a">t</text>
<line x1="200.6" y1="13.30" x2="224" y2="13.30" stroke="#000000" stroke-width="1.8" stroke-dasharray="3 6.6"/>
<line x1="200.6" y1="34.00" x2="224" y2="34.00" stroke="#ff4500" stroke-width="1.8" stroke-dasharray="3 6.6"/>
<line x1="200.6" y1="54.50" x2="224" y2="54.50" stroke="#0c8c0c" stroke-width="1.8" stroke-dasharray="3 6.6"/>
<text transform="translate(235.98 17.80) scale(0.772 1)" style="font-family:'Liberation Sans',sans-serif;font-size:14.2px;font-weight:normal;font-style:normal;fill:#2a2a2a">3</text>
<text transform="translate(242.82 17.80) scale(0.829 1)" style="font-family:'Liberation Sans',sans-serif;font-size:14.2px;font-weight:normal;font-style:normal;fill:#2a2a2a">n</text>
<text transform="translate(249.96 20.10) scale(1.291 1)" style="font-family:'Liberation Sans',sans-serif;font-size:6.3px;font-weight:bold;font-style:normal;fill:#3a3a3a">p</text>
<text transform="translate(254.41 20.00) scale(2.103 1)" style="font-family:'Liberation Sans',sans-serif;font-size:6.3px;font-weight:normal;font-style:normal;fill:#2a2a2a">,</text>
<text transform="translate(257.37 20.00) scale(1.073 1)" style="font-family:'Liberation Sans',sans-serif;font-size:7.8px;font-weight:normal;font-style:normal;fill:#2a2a2a">0</text>
<text transform="translate(267.22 17.80) scale(0.892 1)" style="font-family:'Liberation Sans',sans-serif;font-size:14.2px;font-weight:normal;font-style:normal;fill:#2a2a2a">Δ</text>
<path d="M283.10 9.80 L277.40 13.20 L283.10 16.60" fill="none" stroke="#2a2a2a" stroke-width="1.15" stroke-linejoin="miter"/>
<text transform="translate(284.57 17.80) scale(0.716 1)" style="font-family:'Liberation Sans',sans-serif;font-size:14.2px;font-weight:normal;font-style:normal;fill:#2a2a2a">δ</text>
<text transform="translate(290.03 17.80) scale(0.834 1)" style="font-family:'Liberation Sans',sans-serif;font-size:14.2px;font-weight:normal;font-style:normal;fill:#2a2a2a">T</text>
<text transform="translate(297.54 20.10) scale(1.354 1)" style="font-family:'Liberation Sans',sans-serif;font-size:6.3px;font-weight:bold;font-style:normal;fill:#3a3a3a">p</text>
<path d="M304.50 9.80 L310.70 13.20 L304.50 16.60" fill="none" stroke="#2a2a2a" stroke-width="1.15" stroke-linejoin="miter"/>
<path d="M313.00 20.10 L319.70 6.10" fill="none" stroke="#2a2a2a" stroke-width="1.15"/>
<text transform="translate(321.00 17.80) scale(0.835 1)" style="font-family:'Liberation Sans',sans-serif;font-size:14.2px;font-weight:normal;font-style:normal;fill:#2a2a2a">2</text>
<text transform="translate(235.98 38.50) scale(0.772 1)" style="font-family:'Liberation Sans',sans-serif;font-size:14.2px;font-weight:normal;font-style:normal;fill:#2a2a2a">3</text>
<text transform="translate(241.52 38.50) scale(0.892 1)" style="font-family:'Liberation Sans',sans-serif;font-size:14.2px;font-weight:normal;font-style:normal;fill:#2a2a2a">Δ</text>
<path d="M257.90 30.50 L251.90 33.90 L257.90 37.30" fill="none" stroke="#2a2a2a" stroke-width="1.15" stroke-linejoin="miter"/>
<text transform="translate(259.38 38.50) scale(0.701 1)" style="font-family:'Liberation Sans',sans-serif;font-size:14.2px;font-weight:normal;font-style:normal;fill:#2a2a2a">δ</text>
<text transform="translate(265.52 38.50) scale(0.829 1)" style="font-family:'Liberation Sans',sans-serif;font-size:14.2px;font-weight:normal;font-style:normal;fill:#2a2a2a">n</text>
<text transform="translate(272.66 40.80) scale(1.291 1)" style="font-family:'Liberation Sans',sans-serif;font-size:6.3px;font-weight:bold;font-style:normal;fill:#3a3a3a">p</text>
<text transform="translate(278.08 38.50) scale(0.701 1)" style="font-family:'Liberation Sans',sans-serif;font-size:14.2px;font-weight:normal;font-style:normal;fill:#2a2a2a">δ</text>
<text transform="translate(283.53 38.50) scale(0.859 1)" style="font-family:'Liberation Sans',sans-serif;font-size:14.2px;font-weight:normal;font-style:normal;fill:#2a2a2a">T</text>
<text transform="translate(291.26 40.80) scale(1.291 1)" style="font-family:'Liberation Sans',sans-serif;font-size:6.3px;font-weight:bold;font-style:normal;fill:#3a3a3a">p</text>
<path d="M298.20 30.50 L304.10 33.90 L298.20 37.30" fill="none" stroke="#2a2a2a" stroke-width="1.15" stroke-linejoin="miter"/>
<path d="M306.60 40.80 L313.30 26.80" fill="none" stroke="#2a2a2a" stroke-width="1.15"/>
<text transform="translate(314.51 38.50) scale(0.819 1)" style="font-family:'Liberation Sans',sans-serif;font-size:14.2px;font-weight:normal;font-style:normal;fill:#2a2a2a">2</text>
<text transform="translate(235.98 59.00) scale(0.772 1)" style="font-family:'Liberation Sans',sans-serif;font-size:14.2px;font-weight:normal;font-style:normal;fill:#2a2a2a">3</text>
<text transform="translate(241.71 59.00) scale(0.927 1)" style="font-family:'Liberation Sans',sans-serif;font-size:14.2px;font-weight:normal;font-style:normal;fill:#2a2a2a">Δ</text>
<path d="M258.20 51.00 L252.40 54.40 L258.20 57.80" fill="none" stroke="#2a2a2a" stroke-width="1.15" stroke-linejoin="miter"/>
<text transform="translate(259.62 59.00) scale(0.829 1)" style="font-family:'Liberation Sans',sans-serif;font-size:14.2px;font-weight:normal;font-style:normal;fill:#2a2a2a">n</text>
<text transform="translate(266.45 61.30) scale(1.323 1)" style="font-family:'Liberation Sans',sans-serif;font-size:6.3px;font-weight:bold;font-style:normal;fill:#3a3a3a">p</text>
<text transform="translate(271.83 59.00) scale(0.847 1)" style="font-family:'Liberation Sans',sans-serif;font-size:14.2px;font-weight:normal;font-style:normal;fill:#2a2a2a">T</text>
<text transform="translate(278.48 61.30) scale(1.260 1)" style="font-family:'Liberation Sans',sans-serif;font-size:6.3px;font-weight:bold;font-style:normal;fill:#3a3a3a">p</text>
<path d="M284.50 51.00 L290.30 54.40 L284.50 57.80" fill="none" stroke="#2a2a2a" stroke-width="1.15" stroke-linejoin="miter"/>
<path d="M293.00 61.30 L299.60 47.30" fill="none" stroke="#2a2a2a" stroke-width="1.15"/>
<text transform="translate(300.66 59.00) scale(0.897 1)" style="font-family:'Liberation Sans',sans-serif;font-size:14.2px;font-weight:normal;font-style:normal;fill:#2a2a2a">2</text>
<line x1="374.4" y1="13.30" x2="401.8" y2="13.30" stroke="#ffa030" stroke-width="1.6"/>
<rect x="385.60" y="10.90" width="4.80" height="4.80" stroke="#ffa030" stroke-width="1.4" fill="none"/>
<line x1="374.4" y1="34.00" x2="401.8" y2="34.00" stroke="#0000ff" stroke-width="1.6"/>
<path d="M385.80 31.80 L390.20 36.20 M385.80 36.20 L390.20 31.80" stroke="#0000ff" stroke-width="1.8" fill="none"/>
<path d="M409.90 13.30 H416.90" fill="none" stroke="#2a2a2a" stroke-width="1.15"/>
<path d="M419.60 18.20 c0.2 1.6 2.3 1.5 2.8 -0.9 l2.0 -8.9 c0.5 -2.4 2.3 -2.6 2.6 -0.9" fill="none" stroke="#2a2a2a" stroke-width="1.3" stroke-linecap="round"/>
<text transform="translate(427.67 20.30) scale(0.973 1)" style="font-family:'Liberation Sans',sans-serif;font-size:8.6px;font-weight:normal;font-style:normal;fill:#111">0</text><text transform="translate(432.69 11.40) scale(0.904 1)" style="font-family:'Liberation Sans',sans-serif;font-size:7.8px;font-weight:normal;font-style:normal;fill:#111">t</text>
<path d="M442.80 9.80 L437.10 13.20 L442.80 16.60" fill="none" stroke="#2a2a2a" stroke-width="1.15" stroke-linejoin="miter"/>
<text transform="translate(444.66 17.80) scale(1.109 1)" style="font-family:'Liberation Serif',sans-serif;font-size:14.3px;font-weight:normal;font-style:normal;fill:#2a2a2a">j</text>
<path d="M409.90 34.00 H416.90" fill="none" stroke="#2a2a2a" stroke-width="1.15"/>
<path d="M419.60 38.90 c0.2 1.6 2.3 1.5 2.8 -0.9 l2.0 -8.9 c0.5 -2.4 2.3 -2.6 2.6 -0.9" fill="none" stroke="#2a2a2a" stroke-width="1.3" stroke-linecap="round"/>
<text transform="translate(427.67 41.00) scale(0.973 1)" style="font-family:'Liberation Sans',sans-serif;font-size:8.6px;font-weight:normal;font-style:normal;fill:#111">0</text><text transform="translate(432.69 32.10) scale(0.904 1)" style="font-family:'Liberation Sans',sans-serif;font-size:7.8px;font-weight:normal;font-style:normal;fill:#111">t</text>
<path d="M442.80 30.50 L437.10 33.90 L442.80 37.30" fill="none" stroke="#2a2a2a" stroke-width="1.15" stroke-linejoin="miter"/>
<text transform="translate(444.66 38.50) scale(1.109 1)" style="font-family:'Liberation Serif',sans-serif;font-size:14.3px;font-weight:normal;font-style:normal;fill:#2a2a2a">j</text>
<circle cx="456.30" cy="13.30" r="1.35" fill="#2a2a2a"/>
<text transform="translate(463.26 17.80) scale(1.064 1)" style="font-family:'Liberation Serif',sans-serif;font-size:14.3px;font-weight:normal;font-style:normal;fill:#2a2a2a">E</text>
<path d="M473.20 9.80 L478.90 13.20 L473.20 16.60" fill="none" stroke="#2a2a2a" stroke-width="1.15" stroke-linejoin="miter"/>
<text transform="translate(480.72 17.80) scale(0.799 1)" style="font-family:'Liberation Sans',sans-serif;font-size:14.2px;font-weight:normal;font-style:normal;fill:#2a2a2a">d</text>
<text transform="translate(487.90 17.80) scale(0.938 1)" style="font-family:'Liberation Sans',sans-serif;font-size:14.2px;font-weight:normal;font-style:normal;fill:#2a2a2a">t</text>
<text transform="translate(448.78 41.10) scale(1.089 1)" style="font-family:'Liberation Serif',sans-serif;font-size:8.4px;font-weight:bold;font-style:normal;fill:#3a3a3a">p</text>
<circle cx="461.20" cy="34.00" r="1.35" fill="#2a2a2a"/>
<text transform="translate(468.27 38.50) scale(1.051 1)" style="font-family:'Liberation Serif',sans-serif;font-size:14.3px;font-weight:normal;font-style:normal;fill:#2a2a2a">E</text>
<path d="M478.20 30.50 L483.90 33.90 L478.20 37.30" fill="none" stroke="#2a2a2a" stroke-width="1.15" stroke-linejoin="miter"/>
<text transform="translate(485.83 38.50) scale(0.783 1)" style="font-family:'Liberation Sans',sans-serif;font-size:14.2px;font-weight:normal;font-style:normal;fill:#2a2a2a">d</text>
<text transform="translate(492.90 38.50) scale(0.938 1)" style="font-family:'Liberation Sans',sans-serif;font-size:14.2px;font-weight:normal;font-style:normal;fill:#2a2a2a">t</text>
<text transform="translate(13.98 80.00) scale(1.066 1)" style="font-family:'Liberation Sans',sans-serif;font-size:15.0px;font-weight:normal;font-style:normal;fill:#2a2a2a">0.06</text>
<text transform="translate(13.98 136.00) scale(1.058 1)" style="font-family:'Liberation Sans',sans-serif;font-size:15.0px;font-weight:normal;font-style:normal;fill:#2a2a2a">0.04</text>
<text transform="translate(13.97 196.10) scale(1.070 1)" style="font-family:'Liberation Sans',sans-serif;font-size:15.0px;font-weight:normal;font-style:normal;fill:#2a2a2a">0.02</text>
<text transform="translate(13.98 256.40) scale(1.063 1)" style="font-family:'Liberation Sans',sans-serif;font-size:15.0px;font-weight:normal;font-style:normal;fill:#2a2a2a">0.00</text>
<text transform="translate(3.08 316.60) scale(1.111 1)" style="font-family:'Liberation Sans',sans-serif;font-size:15.0px;font-weight:normal;font-style:normal;fill:#2a2a2a">−0.02</text>
<text transform="translate(3.09 371.80) scale(1.101 1)" style="font-family:'Liberation Sans',sans-serif;font-size:15.0px;font-weight:normal;font-style:normal;fill:#2a2a2a">−0.04</text>
<text transform="translate(45.00 392.00) scale(1.032 1)" style="font-family:'Liberation Sans',sans-serif;font-size:15.0px;font-weight:normal;font-style:normal;fill:#2a2a2a">0</text>
<text transform="translate(180.53 392.00) scale(1.082 1)" style="font-family:'Liberation Sans',sans-serif;font-size:15.0px;font-weight:normal;font-style:normal;fill:#2a2a2a">20</text>
<text transform="translate(321.34 392.00) scale(1.054 1)" style="font-family:'Liberation Sans',sans-serif;font-size:15.0px;font-weight:normal;font-style:normal;fill:#2a2a2a">40</text>
<text transform="translate(461.23 392.00) scale(1.082 1)" style="font-family:'Liberation Sans',sans-serif;font-size:15.0px;font-weight:normal;font-style:normal;fill:#2a2a2a">60</text>
<text transform="translate(601.70 392.00) scale(1.075 1)" style="font-family:'Liberation Sans',sans-serif;font-size:15.0px;font-weight:normal;font-style:normal;fill:#2a2a2a">80</text>
<text transform="translate(242.45 89.90) scale(1.141 1)" style="font-family:'Liberation Sans',sans-serif;font-size:14.2px;font-weight:normal;font-style:normal;fill:#2a2a2a">t=t</text>
<circle cx="263.6" cy="81.9" r="1.2" fill="#2a2a2a"/>
<text transform="translate(318.21 410.00) scale(0.835 1)" style="font-family:'Liberation Sans',sans-serif;font-size:15px;font-weight:normal;font-style:normal;fill:#2a2a2a">t</text>
<text transform="translate(322.57 410.00) scale(0.859 1)" style="font-family:'Liberation Sans',sans-serif;font-size:14.6px;font-weight:normal;font-style:normal;fill:#2a2a2a">Ω</text>
<text transform="translate(332.36 412.30) scale(1.017 1)" style="font-family:'Liberation Sans',sans-serif;font-size:8.5px;font-weight:bold;font-style:normal;fill:#333">cp</text>
</svg>
<!--LEGEND-->
</body></html>
